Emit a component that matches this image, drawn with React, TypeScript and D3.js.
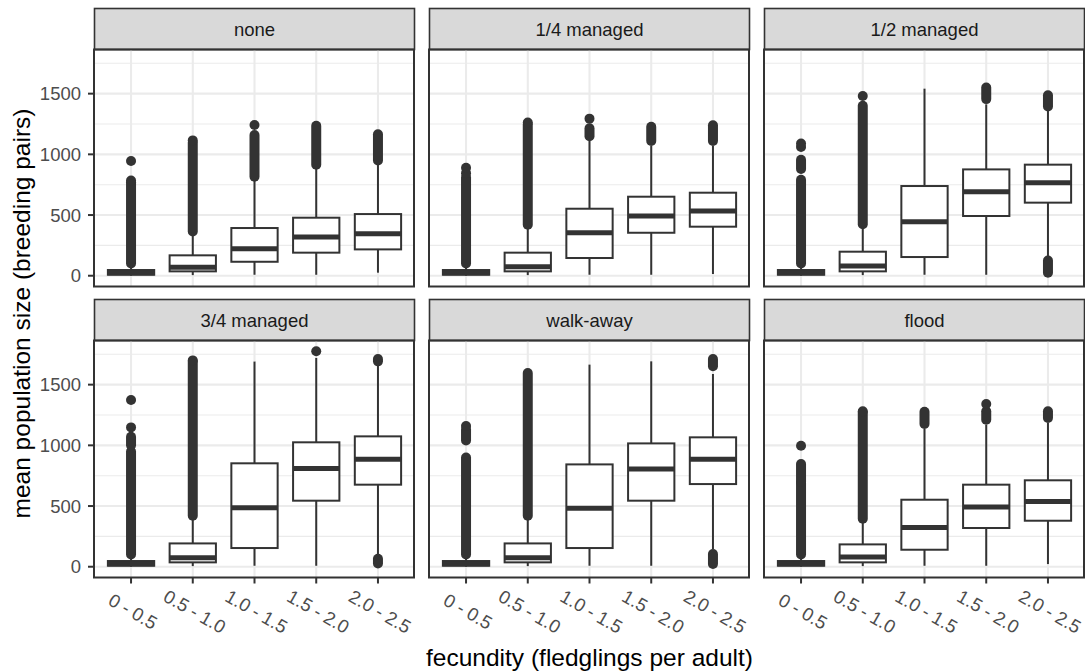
import React from "react";
import * as d3 from "d3";

// ---------- data ----------
const categories = ["0 - 0.5", "0.5 - 1.0", "1.0 - 1.5", "1.5 - 2.0", "2.0 - 2.5"];
const panels = ["none", "1/4 managed", "1/2 managed", "3/4 managed", "walk-away", "flood"];
const yTicks = [0, 500, 1000, 1500];
const yMinorTicks = [250, 750, 1250, 1750];

// per panel, per category
const whiskerLow = [
  [0, 5, 8, 8, 25],
  [0, 5, 8, 8, 14],
  [0, 5, 8, 8, 140],
  [0, 5, 8, 8, 85],
  [0, 5, 8, 8, 146],
  [0, 5, 8, 8, 22],
];
const q1 = [
  [8, 36, 115, 190, 217],
  [8, 36, 146, 354, 404],
  [8, 36, 154, 492, 602],
  [8, 36, 154, 544, 676],
  [8, 36, 154, 544, 681],
  [8, 36, 140, 319, 379],
];
const median = [
  [25, 69, 222, 319, 346],
  [25, 74, 354, 492, 533],
  [25, 80, 445, 692, 766],
  [25, 74, 486, 810, 885],
  [25, 74, 481, 805, 885],
  [25, 80, 324, 492, 538],
];
const q3 = [
  [47, 168, 393, 478, 508],
  [47, 190, 552, 651, 684],
  [47, 198, 739, 876, 915],
  [47, 192, 852, 1025, 1074],
  [47, 192, 843, 1016, 1066],
  [47, 184, 552, 676, 712],
];
const whiskerHigh = [
  [95, 355, 805, 900, 940],
  [95, 405, 1110, 1069, 1069],
  [95, 410, 1541, 1412, 1357],
  [95, 410, 1690, 1720, 1657],
  [95, 410, 1665, 1692, 1588],
  [95, 380, 1135, 1170, 1184],
];
// dense runs of outliers [from, to]
const outlierRuns: [number, number][][][] = [
  [[[100, 770]], [[365, 1095]], [[815, 1160]], [[915, 1235]], [[950, 1165]]],
  [[[100, 810]], [[420, 1245]], [[1150, 1215]], [[1110, 1228]], [[1110, 1239]]],
  [[[100, 790], [880, 955]], [[425, 1400]], [], [[1455, 1550]], [[25, 126], [1395, 1486]]],
  [[[100, 950], [1000, 1070]], [[420, 1690]], [], [], [[27, 65], [1692, 1712]]],
  [[[100, 900], [1040, 1130]], [[420, 1596]], [], [], [[22, 104], [1651, 1712]]],
  [[[100, 690], [700, 846]], [[395, 1270]], [[1176, 1277]], [[1211, 1280]], [[1225, 1280]]],
];
// isolated outliers
const outlierPoints: number[][][] = [
  [[785, 945], [1115], [1242], [], []],
  [[845, 890], [1262], [1294], [], []],
  [[1060, 1090], [1480], [], [], []],
  [[1148, 1374], [1700], [], [1775], []],
  [[1160], [], [], [], []],
  [[997], [1280], [], [1340], []],
];

// ---------- layout ----------
const W = 1085;
const H = 672;
const panelLeft0 = 94;
const panelW = 321;
const gapX = 14;
const stripTop = [8.5, 299.5];
const stripH = 41;
const panelH = 237;
const dark = "#333333";
const font = "'Liberation Sans', Arial, sans-serif";

export default function App() {
  const allVals: number[] = [];
  whiskerLow.forEach((r) => r.forEach((v) => allVals.push(v)));
  whiskerHigh.forEach((r) => r.forEach((v) => allVals.push(v)));
  outlierRuns.forEach((p) => p.forEach((c) => c.forEach((r) => allVals.push(r[0], r[1]))));
  outlierPoints.forEach((p) => p.forEach((c) => c.forEach((v) => allVals.push(v))));
  const lo = d3.min(allVals) as number;
  const hi = d3.max(allVals) as number;
  const pad = (hi - lo) * 0.05;

  const x = d3.scaleLinear().domain([0.4, categories.length + 0.6]).range([0, panelW]);
  const y = d3.scaleLinear().domain([lo - pad, hi + pad]).range([panelH, 0]);
  const boxW = x(0.75) - x(0);

  return (
    <svg width={W} height={H} style={{ position: "absolute", left: 0, top: 0, display: "block" }} fontFamily={font}>
      <rect x={0} y={0} width={W} height={H} fill="#ffffff" />
      {panels.map((name, pi) => {
        const col = pi % 3;
        const row = Math.floor(pi / 3);
        const px = panelLeft0 + col * (panelW + gapX);
        const sy = stripTop[row];
        const py = sy + stripH;
        return (
          <g key={name}>
            {/* strip */}
            <rect x={px + 0.5} y={sy} width={panelW - 1} height={stripH} fill="#D9D9D9" stroke={dark} strokeWidth={1.6} />
            <text x={px + panelW / 2} y={sy + stripH / 2} textAnchor="middle" dominantBaseline="central" fontSize={18.5} fill="#1A1A1A">
              {name}
            </text>
            <g transform={`translate(${px},${py})`}>
              {/* grid */}
              {yMinorTicks.map((t) => (
                <line key={"mi" + t} x1={0} x2={panelW} y1={y(t)} y2={y(t)} stroke="#EBEBEB" strokeWidth={1.1} />
              ))}
              {yTicks.map((t) => (
                <line key={"ma" + t} x1={0} x2={panelW} y1={y(t)} y2={y(t)} stroke="#EBEBEB" strokeWidth={2.1} />
              ))}
              {categories.map((c, ci) => (
                <line key={"vx" + c} x1={x(ci + 1)} x2={x(ci + 1)} y1={0} y2={panelH} stroke="#EBEBEB" strokeWidth={2.1} />
              ))}
              {/* boxes */}
              {categories.map((c, ci) => {
                const cx = x(ci + 1);
                return (
                  <g key={"b" + c}>
                    {outlierRuns[pi][ci].map((r, ri) => (
                      <line key={"r" + ri} x1={cx} x2={cx} y1={y(r[0])} y2={y(r[1])} stroke={dark} strokeWidth={10} strokeLinecap="round" />
                    ))}
                    {outlierPoints[pi][ci].map((v, vi) => (
                      <circle key={"p" + vi} cx={cx} cy={y(v)} r={5} fill={dark} />
                    ))}
                    <line x1={cx} x2={cx} y1={y(q3[pi][ci])} y2={y(whiskerHigh[pi][ci])} stroke={dark} strokeWidth={2} />
                    <line x1={cx} x2={cx} y1={y(q1[pi][ci])} y2={y(whiskerLow[pi][ci])} stroke={dark} strokeWidth={2} />
                    <rect
                      x={cx - boxW / 2}
                      y={y(q3[pi][ci])}
                      width={boxW}
                      height={y(q1[pi][ci]) - y(q3[pi][ci])}
                      fill="#ffffff"
                      stroke={dark}
                      strokeWidth={2}
                    />
                    <line x1={cx - boxW / 2} x2={cx + boxW / 2} y1={y(median[pi][ci])} y2={y(median[pi][ci])} stroke={dark} strokeWidth={5} />
                  </g>
                );
              })}
              {/* border */}
              <rect x={0} y={0} width={panelW - 1} height={panelH} fill="none" stroke={dark} strokeWidth={2} />
              {/* y axis */}
              {col === 0 &&
                yTicks.map((t) => (
                  <g key={"yt" + t}>
                    <line x1={-6} x2={0} y1={y(t)} y2={y(t)} stroke={dark} strokeWidth={2} />
                    <text x={-13} y={y(t)} textAnchor="end" dominantBaseline="central" fontSize={18.5} fill="#4D4D4D">
                      {t}
                    </text>
                  </g>
                ))}
              {/* x axis */}
              {row === 1 &&
                categories.map((c, ci) => {
                  const cx = x(ci + 1);
                  const ty = panelH + 34;
                  return (
                    <g key={"xt" + c}>
                      <line x1={cx} x2={cx} y1={panelH} y2={panelH + 6} stroke={dark} strokeWidth={2} />
                      <text
                        x={cx + 2}
                        y={ty}
                        transform={`rotate(30,${cx + 2},${ty})`}
                        textAnchor="middle"
                        dominantBaseline="central"
                        fontSize={18.5}
                        fill="#4D4D4D"
                      >
                        {c}
                      </text>
                    </g>
                  );
                })}
            </g>
          </g>
        );
      })}
      <text x={panelLeft0 + (3 * panelW + 2 * gapX) / 2} y={657} textAnchor="middle" dominantBaseline="central" fontSize={24.5} fill="#000000">
        fecundity (fledglings per adult)
      </text>
      <text
        x={21}
        y={(stripTop[0] + stripH + stripTop[1] + stripH + panelH) / 2}
        transform={`rotate(-90,21,${(stripTop[0] + stripH + stripTop[1] + stripH + panelH) / 2})`}
        textAnchor="middle"
        dominantBaseline="central"
        fontSize={24.5}
        fill="#000000"
      >
        mean population size (breeding pairs)
      </text>
    </svg>
  );
}
